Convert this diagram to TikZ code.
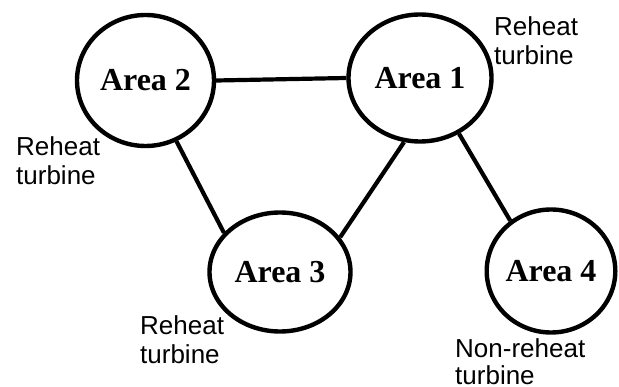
\documentclass[tikz,border=0pt]{standalone}
\usepackage{fontspec}
\setmainfont{Liberation Serif}
\setsansfont{Liberation Sans}
\usetikzlibrary{shapes.geometric}

\begin{document}
\begin{tikzpicture}[x=1pt,y=-1pt]
                          \tikzstyle{every node}+=[inner sep=0pt]
                          \tikzstyle{area}=[draw=black, ellipse, line width=4.4pt, font=\fontsize{32}{36}\selectfont\bfseries]
                          \tikzstyle{note}=[anchor=base west, align=left, font=\fontsize{26}{29.5}\selectfont\sffamily]
                          \useasboundingbox (0,0) rectangle (619,387);
                          \node [area, minimum width=143pt, minimum height=127pt] (A1) at (420,78) {Area 1};
                          \node [area, minimum width=137pt, minimum height=131pt] (A2) at (145.5,80.5) {Area 2};
                          \node [area, minimum width=141pt, minimum height=119pt] (A3) at (280,272) {Area 3};
                          \node [area, minimum width=124pt, minimum height=123pt] (A4) at (551,271) {Area 4};
                          \draw [black, line width=4.2pt] (A2.east) -- (A1.west);
                          \draw [black, line width=4.2pt] (A2.-63.6) -- (A3.145);
                          \draw [black, line width=4.2pt] (A1.-104.7) -- (A3.30.4);
                          \draw [black, line width=4.2pt] (A1.-55.4) -- (A4.129.7);
                          \node [note] (N1) at (494,65) {Reheat\\turbine};
                          \node [note] (N2) at (16,185) {Reheat\\turbine};
                          \node [note] (N3) at (140,364) {Reheat\\turbine};
                          \node [note, font=\fontsize{26}{28}\selectfont\sffamily] (N4) at (455,385) {Non-reheat\\turbine};
                      \end{tikzpicture}
\end{document}
